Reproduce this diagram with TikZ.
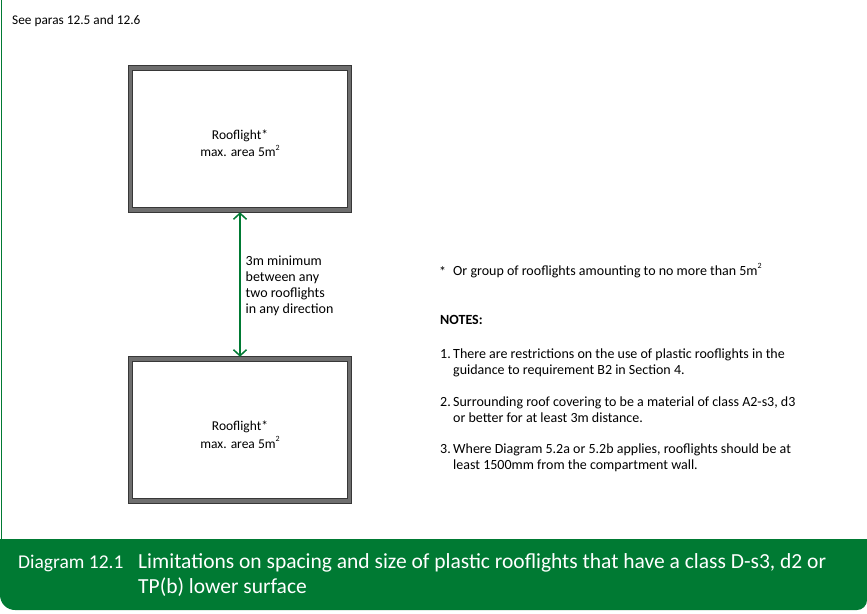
\documentclass[tikz,border=0pt]{standalone}
\usepackage{fontspec}
\setmainfont{Carlito}
\usetikzlibrary{arrows.meta}
\definecolor{dgreen}{RGB}{0,122,51}
\definecolor{bandgray}{RGB}{110,110,110}
\definecolor{edgegray}{RGB}{55,55,55}
\newcommand{\sqr}{\raisebox{0.45em}{\fontsize{8}{8}\selectfont 2}}
\tikzset{
  outerbox/.style={draw=edgegray, line width=0.8pt, fill=bandgray, minimum width=223.5pt, minimum height=146.5pt, inner sep=0pt, outer sep=0pt},
  innerbox/.style={draw=edgegray, line width=0.8pt, fill=white, minimum width=214.5pt, minimum height=137.5pt, inner sep=0pt},
  boxlbl/.style={anchor=base, inner sep=0pt, align=center, font=\fontsize{13.5}{17.3}\selectfont},
  txt/.style={anchor=base west, inner sep=0pt, font=\fontsize{14}{16}\selectfont, align=left},
  captext/.style={anchor=base west, inner sep=0pt, text=white, font=\fontsize{21.5}{25}\selectfont},
  dimarrow/.style={draw=dgreen, line width=1.5pt, {Straight Barb[length=6pt,width=13pt]}-{Straight Barb[length=6pt,width=13pt]}}
}
\begin{document}
\begin{tikzpicture}[x=1pt,y=-1pt]
\useasboundingbox (0,0) rectangle (867,613);
% frame
\draw[dgreen, line width=1pt] (1,0) -- (1,539);
\fill[dgreen] (0,539) -- (867,539) -- (867,600) arc[start angle=0,end angle=90,radius=10] -- (15,610) arc[start angle=90,end angle=180,radius=15] -- cycle;
% note
\node[txt, font=\fontsize{13.3}{16}\selectfont] (see) at (12,24.5) {See paras 12.5 and 12.6};
% rooflights
\node[outerbox] (top) at (240,139) {};
\node[innerbox] (topin) at (top.center) {};
\node[boxlbl] (toplbl) at (240,156.5) {Rooflight*\\max. area 5m\sqr};
\node[outerbox] (bot) at (240,430) {};
\node[innerbox] (botin) at (bot.center) {};
\node[boxlbl] (botlbl) at (240,448) {Rooflight*\\max. area 5m\sqr};
% dimension
\draw[dimarrow] (top.south) -- (bot.north);
\node[txt] (dim) at (245.5,313) {3m minimum\\between any\\two rooflights\\in any direction};
% notes
\node[txt] (star) at (439,276) {*};
\node[txt] (group) at (453,275) {Or group of rooflights amounting to no more than 5m\sqr};
\node[txt, font=\fontsize{14}{16}\bfseries] (notes) at (440,324) {NOTES:};
\node[txt] (n1) at (440,358) {1.};
\node[txt] (t1) at (453,374) {There are restrictions on the use of plastic rooflights in the\\guidance to requirement B2 in Section 4.};
\node[txt] (n2) at (440,406.5) {2.};
\node[txt] (t2) at (453,422.5) {Surrounding roof covering to be a material of class A2-s3, d3\\or better for at least 3m distance.};
\node[txt] (n3) at (440,453.5) {3.};
\node[txt] (t3) at (453,469.5) {Where Diagram 5.2a or 5.2b applies, rooflights should be at\\least 1500mm from the compartment wall.};
% caption
\node[captext, font=\fontsize{19.5}{25}\selectfont] (dnum) at (18,568) {Diagram 12.1};
\node[captext, align=left] (dtitle) at (138,593) {Limitations on spacing and size of plastic rooflights that have a class D-s3, d2 or\\TP(b) lower surface};
\end{tikzpicture}
\end{document}
